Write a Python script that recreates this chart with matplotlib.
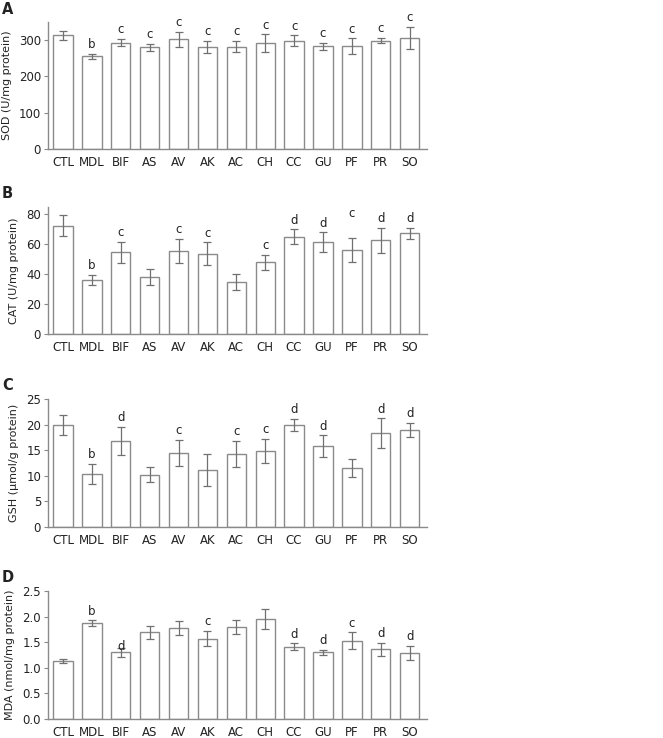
import numpy as np
import matplotlib as mpl
import matplotlib.pyplot as plt

mpl.rcParams['font.family'] = 'DejaVu Sans'
mpl.rcParams['font.size'] = 8

groups = ['CTL', 'MDL', 'BIF', 'AS', 'AV', 'AK', 'AC', 'CH', 'CC', 'GU', 'PF', 'PR', 'SO']

sod = [313, 255, 293, 280, 302, 282, 282, 291, 299, 283, 283, 299, 306]
sod_err = [13, 7, 10, 9, 20, 17, 15, 25, 14, 9, 22, 8, 31]
sod_sig = ['', 'b', 'c', 'c', 'c', 'c', 'c', 'c', 'c', 'c', 'c', 'c', 'c']

cat = [72.4, 36.2, 54.7, 38.0, 55.8, 53.8, 34.9, 48.0, 65.1, 61.3, 56.4, 62.7, 67.3]
cat_err = [7.0, 3.3, 7.2, 5.2, 8.0, 7.5, 5.2, 5.2, 4.9, 6.7, 8.1, 8.2, 3.9]
cat_sig = ['', 'b', 'c', '', 'c', 'c', '', 'c', 'd', 'd', 'c', 'd', 'd']

gsh = [19.9, 10.4, 16.75, 10.2, 14.4, 11.1, 14.2, 14.85, 19.9, 15.8, 11.45, 18.3, 19.0]
gsh_err = [2.0, 2.0, 2.75, 1.5, 2.55, 3.1, 2.55, 2.4, 1.2, 2.1, 1.75, 2.9, 1.35]
gsh_sig = ['', 'b', 'd', '', 'c', '', 'c', 'c', 'd', 'd', '', 'd', 'd']

mda = [1.14, 1.875, 1.30, 1.69, 1.78, 1.57, 1.80, 1.96, 1.41, 1.30, 1.53, 1.36, 1.295]
mda_err = [0.04, 0.05, 0.095, 0.12, 0.14, 0.15, 0.14, 0.195, 0.065, 0.05, 0.16, 0.12, 0.14]
mda_sig = ['', 'b', 'd', '', '', 'c', '', '', 'd', 'd', 'c', 'd', 'd']

W, H = 663, 738
fig = plt.figure(figsize=(W / 100, H / 100), dpi=100)

edge = '#8a8a8a'
txt = '#222222'

# panel label, values, errors, letters, y label, ylim, yticks, top px, bottom px
panels = [
    ('A', sod, sod_err, sod_sig, 'SOD (U/mg protein)', 350, [0, 100, 200, 300], '{:.0f}', 22, 149),
    ('B', cat, cat_err, cat_sig, 'CAT (U/mg protein)', 85, [0, 20, 40, 60, 80], '{:.0f}', 207, 334),
    ('C', gsh, gsh_err, gsh_sig, 'GSH (\u03bcmol/g protein)', 25, [0, 5, 10, 15, 20, 25], '{:.0f}', 399, 527),
    ('D', mda, mda_err, mda_sig, 'MDA (nmol/mg protein)', 2.5, [0, 0.5, 1.0, 1.5, 2.0, 2.5], '{:.1f}', 591, 719),
]

# letters that sit away from the usual spot (panel, group) -> extra points
extra = {('B', 'PF'): 11, ('D', 'BIF'): -6}

x = np.arange(len(groups))
left, right = 48, 427

for lab, vals, errs, sig, ylab, ymax, yt, fmt, top, bot in panels:
    ax = fig.add_axes([left / W, 1 - bot / H, (right - left) / W, (bot - top) / H])
    ax.bar(x, vals, width=0.67, color='white', edgecolor=edge, linewidth=1.0, zorder=2)
    ax.errorbar(x, vals, yerr=errs, fmt='none', ecolor='#707070', elinewidth=0.9,
                capsize=3, capthick=0.9, zorder=3)
    for i, s in enumerate(sig):
        if s:
            ax.annotate(s, (x[i], vals[i] + errs[i]), xytext=(0, 2 + extra.get((lab, groups[i]), 0)),
                        textcoords='offset points', ha='center', va='bottom',
                        fontsize=8.5, color=txt)
    ax.set_xlim(-0.52, 12.6)
    ax.set_ylim(0, ymax)
    ax.set_yticks(yt)
    ax.set_yticklabels([fmt.format(v) for v in yt])
    ax.set_xticks(x)
    ax.set_xticklabels(groups)
    ax.tick_params(axis='x', length=0, pad=5, labelsize=8.5, colors=txt)
    ax.tick_params(axis='y', length=3, width=0.8, color=edge, labelsize=8.5, labelcolor=txt, pad=2)
    for sp in ['top', 'right']:
        ax.spines[sp].set_visible(False)
    for sp in ['left', 'bottom']:
        ax.spines[sp].set_color(edge)
        ax.spines[sp].set_linewidth(1.0)
    ax.set_ylabel(ylab, fontsize=8, color=txt, labelpad=5)
    fig.text(2 / W, 1 - (top - 13) / H, lab, fontsize=10.5, fontweight='bold', color=txt,
             ha='left', va='center')

fig.savefig('out.png', dpi=100, facecolor='white')
